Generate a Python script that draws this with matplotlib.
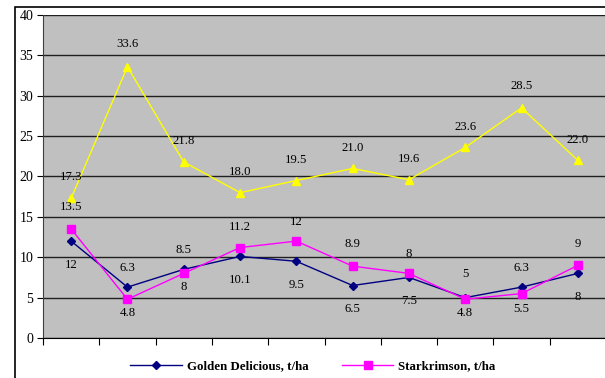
import matplotlib
matplotlib.use("Agg")
import matplotlib.pyplot as plt
import numpy as np
from matplotlib.patches import Rectangle

plt.rcParams['font.family'] = ['Liberation Serif', 'DejaVu Serif']

# data (10 categories, no category names shown)
golden = [12, 6.3, 8.5, 10.1, 9.5, 6.5, 7.5, 5, 6.3, 8]
golden_txt = ['12', '6.3', '8.5', '10.1', '9.5', '6.5', '7.5', '5', '6.3', '8']
stark = [13.5, 4.8, 8, 11.2, 12, 8.9, 8, 4.8, 5.5, 9]
stark_txt = ['13.5', '4.8', '8', '11.2', '12', '8.9', '8', '4.8', '5.5', '9']
third = [17.3, 33.6, 21.8, 18.0, 19.5, 21.0, 19.6, 23.6, 28.5, 22.0]
third_txt = ['17.3', '33.6', '21.8', '18.0', '19.5', '21.0', '19.6', '23.6', '28.5', '22.0']

# label placement (+ above, - below), in points
golden_off = [-17, 14, 14, -17, -17, -17, -17, 17, 14, -17]
stark_off = [16, -10, -10, 15, 14, 16, 14, -10, -11, 15]
third_off = [15, 16, 15, 15, 15, 15, 15, 15, 16, 15]

x = np.arange(len(golden)) + 0.5

fig = plt.figure(figsize=(6.05, 3.78), dpi=100)
fig.patches.append(Rectangle((15/605, -0.1), 1.2, 1 - 7/378 + 0.1, transform=fig.transFigure,
                             fill=False, edgecolor='black', linewidth=1.2))
ax = fig.add_axes([43/605, 1 - 338/378, 563/605, 323/378])
ax.set_facecolor('#C0C0C0')

ax.plot(x, golden, color='#000080', marker='D', markersize=4.5, linewidth=1,
        label='Golden Delicious, t/ha', zorder=3)
ax.plot(x, stark, color='#FF00FF', marker='s', markersize=5.5, linewidth=1,
        label='Starkrimson, t/ha', zorder=3)
ax.plot(x, third, color='#FFFF00', marker='^', markersize=6, linewidth=1,
        label='_nolegend_', zorder=3)

for vals, txts, offs in [(golden, golden_txt, golden_off), (stark, stark_txt, stark_off),
                         (third, third_txt, third_off)]:
    for xi, v, t, o in zip(x, vals, txts, offs):
        ax.annotate(t, (xi, v), xytext=(0, o), textcoords='offset points',
                    ha='center', va='center', fontsize=9.2, color='black')

ax.set_xlim(0, len(golden))
ax.set_ylim(0, 40)
ax.set_yticks(np.arange(0, 41, 5))
ax.set_xticks(np.arange(0, len(golden) + 1))
ax.set_xticklabels([])
ax.tick_params(axis='x', direction='out', length=5, color='black')
ax.tick_params(axis='y', direction='out', length=4, labelsize=10, pad=3)
ax.grid(axis='y', color='#202020', linewidth=1)
ax.set_axisbelow(True)
for s in ['top', 'right']:
    ax.spines[s].set_visible(False)
ax.spines['left'].set_color('#404040')
ax.spines['bottom'].set_color('black')

fig.legend(loc='center', bbox_to_anchor=(0.517, 1 - 366/378), ncol=2, frameon=False,
           prop={'weight': 'bold', 'size': 9.3}, handlelength=4.0, handletextpad=0.35,
           columnspacing=2.6)

fig.savefig('out.png', dpi=100)
